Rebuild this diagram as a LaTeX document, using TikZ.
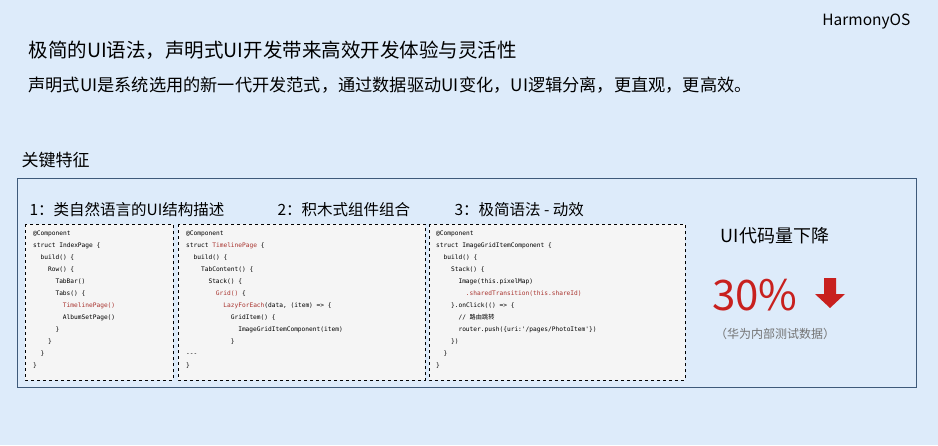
\documentclass[tikz,border=0pt]{standalone}
\usepackage{fontspec}
\setmainfont{Noto Sans CJK SC}
\newfontfamily\cjk{Noto Sans CJK SC}
\newfontfamily\codefont{DejaVu Sans Mono}
\definecolor{bgblue}{HTML}{DDEBFA}
\definecolor{frameblue}{HTML}{3E5A7A}
\definecolor{codered}{HTML}{A8322D}
\definecolor{bigred}{HTML}{C8201E}
\newcommand\ind[1]{\hspace*{#1em}}
\newcommand\hl[1]{\textcolor{codered}{#1}}

\begin{document}
\begin{tikzpicture}[x=1pt, y=-1pt,
                    codebox/.style = {draw, dashed, line width = 0.8pt, fill = white!96!black},
                    code/.style = {anchor = north west, align = left, inner sep = 0pt,
                                   font = \codefont\fontsize{6.2}{12}\selectfont},
                    head/.style = {anchor = west, font = \fontsize{15.5}{18}\selectfont}]
  \fill [bgblue] (0,0) rectangle (938,445);
  \useasboundingbox (0,0) rectangle (938,445);

  \node [anchor = east, font = \fontsize{15.5}{18}\selectfont] (logo) at (914,22) {HarmonyOS};
  \node [anchor = west, font = \fontsize{19.5}{22}\selectfont] (title) at (25,50) {极简的UI语法，声明式UI开发带来高效开发体验与灵活性};
  \node [anchor = west, font = \fontsize{17.2}{20}\selectfont] (sub) at (25,85) {声明式UI是系统选用的新一代开发范式，通过数据驱动UI变化，UI逻辑分离，更直观，更高效。};
  \node [anchor = west, font = \fontsize{17}{20}\selectfont] (key) at (18,160) {关键特征};

  \draw [frameblue, line width = 0.8pt] (17,178) rectangle (916,387);

  \node [head] (h1) at (26,210) {1：类自然语言的UI结构描述};
  \node [head] (h2) at (274,210) {2：积木式组件组合};
  \node [head] (h3) at (451,210) {3：极简语法 - 动效};

  \draw [codebox] (25,224) rectangle (173,380);
  \draw [codebox] (178,224) rectangle (425,380);
  \draw [codebox] (429,224) rectangle (685,380);

  \node [code] (c1) at (33,231) {@Component\\struct IndexPage \{\\\ind{1.2}build() \{\\\ind{2.4}Row() \{\\\ind{3.6}TabBar()\\\ind{3.6}Tabs() \{\\\ind{4.8}\hl{TimelinePage()}\\\ind{4.8}AlbumSetPage()\\\ind{3.6}\}\\\ind{2.4}\}\\\ind{1.2}\}\\\}};
  \node [code] (c2) at (186,231) {@Component\\struct \hl{TimelinePage} \{\\\ind{1.2}build() \{\\\ind{2.4}TabContent() \{\\\ind{3.6}Stack() \{\\\ind{4.8}\hl{Grid()} \{\\\ind{6}\hl{LazyForEach}(data, (item) => \{\\\ind{7.2}GridItem() \{\\\ind{8.4}ImageGridItemComponent(item)\\\ind{7.2}\}\\---\\\}};
  \node [code] (c3) at (436,231) {@Component\\struct ImageGridItemComponent \{\\\ind{1.2}build() \{\\\ind{2.4}Stack() \{\\\ind{3.6}Image(this.pixelMap)\\\ind{4.8}\hl{.sharedTransition(this.shareId)}\\\ind{2.4}\}.onClick(() => \{\\\ind{3.6}// {\cjk 路由跳转}\\\ind{3.6}router.push(\{uri:'/pages/PhotoItem'\})\\\ind{2.4}\})\\\ind{1.2}\}\\\}};

  \node [font = \fontsize{18}{21}\selectfont] (drop) at (775,236) {UI代码量下降};
  \node [text = bigred, font = \fontsize{42}{44}\selectfont] (pct) at (755,295) {30\%};
  \fill [bigred] (824,278) -- (836,278) -- (836,294) -- (845,294) -- (830,308) -- (815,294) -- (824,294) -- cycle;
  \node [text = black!55, font = \fontsize{12}{14}\selectfont] (note) at (775,334) {（华为内部测试数据）};
\end{tikzpicture}
\end{document}
